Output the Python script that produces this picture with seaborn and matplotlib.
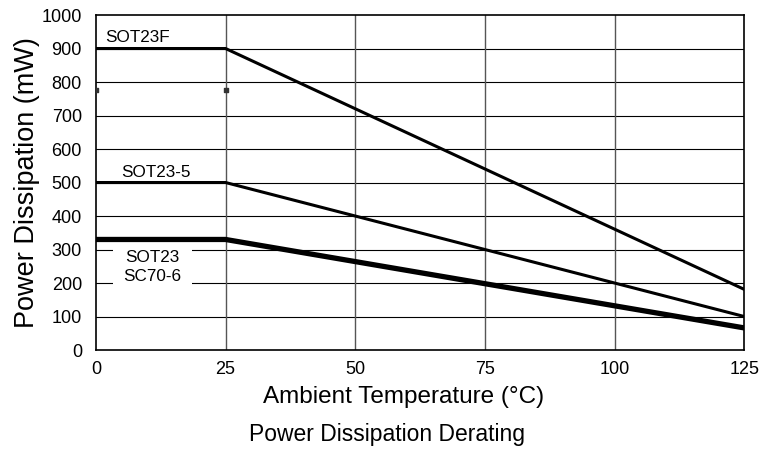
import matplotlib
matplotlib.use("Agg")
import matplotlib.pyplot as plt
import seaborn as sns
import pandas as pd

temps = [0, 25, 125]
sot23f = [900, 900, 181]
sot23_5 = [500, 500, 100]
sot23_sc70 = [330, 330, 66]
dot_x = [0, 25]
dot_y = [775, 775]
x_ticks = [0, 25, 50, 75, 100, 125]
y_ticks = list(range(0, 1001, 100))

sns.set_theme(style="white")
plt.rcParams['font.family'] = ['Liberation Sans', 'DejaVu Sans']
plt.rcParams['text.color'] = 'black'

fig = plt.figure(figsize=(7.61, 4.51), dpi=100)
ax = fig.add_axes([0.126, 0.2239, 0.852, 0.7428])

df = pd.DataFrame({
    "T": temps * 3,
    "P": sot23f + sot23_5 + sot23_sc70,
    "pkg": ["SOT23F"] * 3 + ["SOT23-5"] * 3 + ["SOT23"] * 3,
})
for name, lw in [("SOT23F", 2.2), ("SOT23-5", 2.2), ("SOT23", 3.8)]:
    sub = df[df.pkg == name]
    sns.lineplot(data=sub, x="T", y="P", ax=ax, color="black", linewidth=lw,
                 legend=False, zorder=3, solid_joinstyle="miter")

ax.scatter(dot_x, dot_y, s=5, marker="s", color="#333333", zorder=3)

ax.set_xlim(0, 125)
ax.set_ylim(0, 1000)
ax.set_xticks(x_ticks)
ax.set_yticks(y_ticks)
for yv in y_ticks[1:-1]:
    ax.axhline(yv, color="black", linewidth=0.8, zorder=1)
for xv in x_ticks[1:-1]:
    ax.axvline(xv, color="#555555", linewidth=1.0, zorder=1)
for s in ax.spines.values():
    s.set_color("black")
    s.set_linewidth(1.2)

ax.tick_params(axis="both", labelsize=13, colors="black", length=0)
ax.tick_params(axis="x", pad=8)
ax.tick_params(axis="y", pad=10)
ax.set_xlabel("Ambient Temperature (°C)", fontsize=17.5, color="black",
              labelpad=6, x=0.474)
ax.set_ylabel("Power Dissipation (mW)", fontsize=19.5, color="black", labelpad=1)

ax.text(8.1, 934, "SOT23F", fontsize=12.3, ha="center", va="center", zorder=4)
ax.text(11.6, 530, "SOT23-5", fontsize=12.3, ha="center", va="center", zorder=4)
ax.text(10.9, 247, "SOT23\nSC70-6", fontsize=12.3, ha="center", va="center",
        linespacing=1.3, zorder=2,
        bbox=dict(facecolor="white", edgecolor="none", boxstyle="square,pad=0.25"))
# widen the gap in the grid lines behind the two-line label
ax.axhspan(190, 310, xmin=(113 - 96) / 648, xmax=(192 - 96) / 648,
           facecolor="white", edgecolor="none", zorder=1.5)

fig.text(0.508, 0.036, "Power Dissipation Derating", fontsize=16.5,
         ha="center", va="center", color="black")

fig.savefig("out.png", dpi=100)
